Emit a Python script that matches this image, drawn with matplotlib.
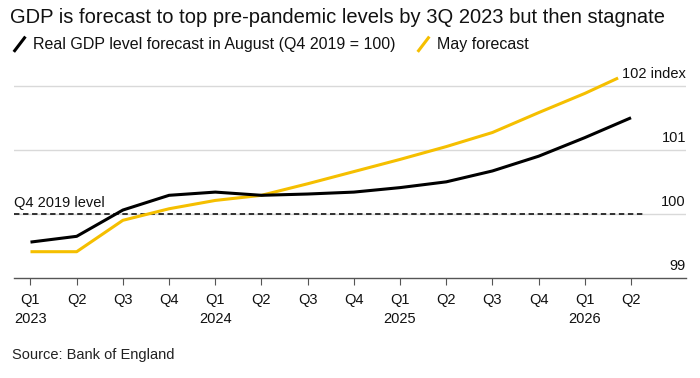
import matplotlib
matplotlib.use("Agg")
import matplotlib.pyplot as plt
import matplotlib.transforms as mtransforms

plt.rcParams['font.family'] = ['Liberation Sans', 'DejaVu Sans']

quarters = ["Q1", "Q2", "Q3", "Q4", "Q1", "Q2", "Q3", "Q4", "Q1", "Q2", "Q3", "Q4", "Q1", "Q2"]
years = ["2023", "", "", "", "2024", "", "", "", "2025", "", "", "", "2026", ""]
august_x = [0, 1, 2, 3, 4, 5, 6, 7, 8, 9, 10, 11, 12, 13]
august = [99.56, 99.65, 100.06, 100.29, 100.34, 100.29, 100.31, 100.34, 100.41, 100.5, 100.67, 100.9, 101.19, 101.5]
may_x = [0, 1, 2, 3, 4, 5, 6, 7, 8, 9, 10, 11, 12, 12.72]
may = [99.41, 99.41, 99.9, 100.08, 100.21, 100.29, 100.47, 100.66, 100.85, 101.05, 101.27, 101.58, 101.88, 102.12]
yticks = [99, 100, 101, 102]
ylabels = ["99", "100", "101", "102 index"]

fig = plt.figure(figsize=(7, 3.78), dpi=100)
ax = fig.add_axes([0.02, 0.2646, 0.96, 0.568])
ax.set_xlim(-0.357, 14.19)
ax.set_ylim(99, 102.35)

for y in yticks[1:]:
    ax.axhline(y, color="#d9d9d9", lw=1, zorder=1)
ax.plot([-0.357, 13.3], [100, 100], color="#222222", lw=1.3, ls=(0, (3, 2)), zorder=2)
ax.text(-0.357, 100.06, "Q4 2019 level", fontsize=10.5, ha="left", va="bottom", color="#111111")

ax.plot(may_x, may, color="#f5bf00", lw=2.2, zorder=3, solid_capstyle="butt")
ax.plot(august_x, august, color="#000000", lw=2.2, zorder=4, solid_capstyle="butt")

trans = mtransforms.blended_transform_factory(ax.transAxes, ax.transData)
for y, lab in zip(yticks, ylabels):
    ax.text(1.0, y + 0.08, lab, transform=trans, ha="right", va="bottom", fontsize=10.5, color="#111111")

for s in ["top", "right", "left"]:
    ax.spines[s].set_visible(False)
ax.spines["bottom"].set_color("#555555")
ax.spines["bottom"].set_linewidth(1)
ax.set_yticks([])
ax.set_xticks(august_x)
ax.set_xticklabels([q + ("\n" + yr if yr else "\n ") for q, yr in zip(quarters, years)],
                   fontsize=10.5, linespacing=1.4)
ax.tick_params(axis="x", length=5, color="#555555", pad=6, labelcolor="#111111")

fig.text(0.014, 0.955, "GDP is forecast to top pre-pandemic levels by 3Q 2023 but then stagnate",
         fontsize=14.5, ha="left", va="center", color="#111111")
fig.text(0.047, 0.883, "Real GDP level forecast in August (Q4 2019 = 100)",
         fontsize=11.5, ha="left", va="center", color="#111111")
fig.text(0.624, 0.883, "May forecast", fontsize=11.5, ha="left", va="center", color="#111111")
fig.add_artist(plt.Line2D([0.021, 0.035], [0.866, 0.9], color="black", lw=2.2, transform=fig.transFigure))
fig.add_artist(plt.Line2D([0.598, 0.612], [0.866, 0.9], color="#f5bf00", lw=2.2, transform=fig.transFigure))
fig.text(0.017, 0.06, "Source: Bank of England", fontsize=10.5, ha="left", va="center", color="#222222")

fig.savefig("out.png", dpi=100)
